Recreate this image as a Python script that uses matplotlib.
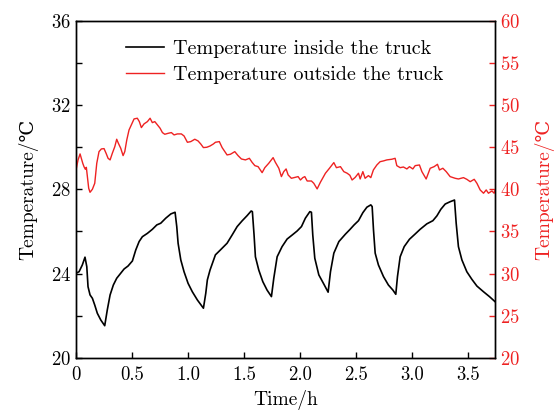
import matplotlib
matplotlib.use("Agg")
import matplotlib.pyplot as plt
from matplotlib.ticker import FixedLocator, FixedFormatter, MultipleLocator

# Temperature inside the truck (left axis, degC) against time (h)
t_in = [0.0, 0.027, 0.056, 0.080, 0.096, 0.107, 0.125, 0.146, 0.167, 0.190, 0.221,
        0.256, 0.279, 0.304, 0.333, 0.363, 0.399, 0.429, 0.464, 0.503, 0.533, 0.563,
        0.592, 0.637, 0.681, 0.721, 0.756, 0.801, 0.846, 0.884, 0.899, 0.911, 0.935,
        0.964, 1.0, 1.038, 1.083, 1.137, 1.158, 1.172, 1.196, 1.244, 1.288, 1.348,
        1.393, 1.438, 1.482, 1.527, 1.563, 1.574, 1.589, 1.601, 1.631, 1.667, 1.705,
        1.744, 1.765, 1.795, 1.839, 1.884, 1.929, 1.973, 2.012, 2.047, 2.087, 2.101,
        2.113, 2.131, 2.167, 2.212, 2.25, 2.271, 2.301, 2.346, 2.404, 2.446, 2.482,
        2.521, 2.56, 2.596, 2.631, 2.643, 2.655, 2.67, 2.699, 2.744, 2.788, 2.828,
        2.854, 2.869, 2.893, 2.929, 2.976, 3.027, 3.071, 3.131, 3.185, 3.221, 3.256,
        3.295, 3.339, 3.378, 3.393, 3.413, 3.444, 3.488, 3.533, 3.578, 3.637, 3.69,
        3.74]
temp_in = [24.02, 24.09, 24.41, 24.78, 24.33, 23.38, 22.99, 22.83, 22.51, 22.12, 21.8,
           21.53, 22.28, 22.99, 23.46, 23.78, 24.02, 24.22, 24.36, 24.6, 25.12, 25.52,
           25.75, 25.91, 26.1, 26.31, 26.39, 26.63, 26.83, 26.91, 26.23, 25.44, 24.65,
           24.09, 23.54, 23.14, 22.75, 22.36, 23.07, 23.7, 24.17, 24.89, 25.12, 25.44,
           25.83, 26.23, 26.5, 26.75, 26.97, 26.94, 25.83, 24.8, 24.17, 23.62, 23.22,
           22.91, 23.78, 24.8, 25.28, 25.64, 25.83, 26.02, 26.23, 26.63, 26.94, 26.91,
           25.83, 24.73, 23.94, 23.5, 23.12, 24.09, 24.97, 25.52, 25.87, 26.1, 26.31,
           26.51, 26.89, 27.15, 27.26, 27.18, 26.07, 24.97, 24.41, 23.86, 23.46, 23.22,
           23.02, 23.86, 24.8, 25.28, 25.63, 25.88, 26.1, 26.36, 26.51, 26.74, 27.05,
           27.3, 27.41, 27.49, 26.39, 25.28, 24.65, 24.09, 23.73, 23.41, 23.14, 22.91,
           22.67]

# Temperature outside the truck (right axis, degC) against time (h)
t_out = [0.0, 0.018, 0.036, 0.047, 0.06, 0.071, 0.083, 0.092, 0.101, 0.113, 0.125,
         0.146, 0.167, 0.185, 0.205, 0.226, 0.25, 0.268, 0.286, 0.304, 0.324, 0.346,
         0.363, 0.378, 0.399, 0.42, 0.435, 0.453, 0.473, 0.494, 0.518, 0.547, 0.565,
         0.583, 0.607, 0.637, 0.661, 0.681, 0.703, 0.726, 0.75, 0.771, 0.792, 0.824,
         0.851, 0.875, 0.904, 0.94, 0.964, 0.994, 1.024, 1.06, 1.089, 1.113, 1.137,
         1.167, 1.196, 1.226, 1.244, 1.279, 1.304, 1.328, 1.348, 1.378, 1.417, 1.446,
         1.476, 1.512, 1.547, 1.571, 1.596, 1.625, 1.661, 1.685, 1.72, 1.759, 1.779,
         1.81, 1.833, 1.854, 1.875, 1.893, 1.922, 1.958, 1.982, 2.003, 2.024, 2.042,
         2.063, 2.101, 2.122, 2.152, 2.181, 2.226, 2.262, 2.301, 2.324, 2.36, 2.39,
         2.42, 2.444, 2.464, 2.491, 2.521, 2.536, 2.56, 2.58, 2.61, 2.631, 2.654,
         2.685, 2.714, 2.744, 2.774, 2.819, 2.848, 2.863, 2.893, 2.922, 2.953, 2.976,
         3.006, 3.027, 3.065, 3.087, 3.125, 3.161, 3.196, 3.226, 3.244, 3.274, 3.304,
         3.339, 3.384, 3.413, 3.458, 3.488, 3.518, 3.554, 3.578, 3.607, 3.637, 3.661,
         3.681, 3.712, 3.732, 3.74]
temp_out = [42.29, 43.48, 44.19, 43.67, 43.08, 42.68, 42.37, 42.6, 41.5, 40.12, 39.64,
            40.0, 40.71, 43.08, 44.46, 44.78, 44.82, 44.27, 43.67, 43.48, 44.27, 45.05,
            45.93, 45.45, 44.86, 43.99, 44.46, 45.85, 47.03, 47.63, 48.34, 48.42, 48.02,
            47.31, 47.75, 48.02, 48.42, 47.9, 48.02, 47.63, 47.24, 46.72, 46.52, 46.64,
            46.72, 46.44, 46.56, 46.56, 46.32, 45.57, 45.65, 45.93, 45.73, 45.37, 44.94,
            44.98, 45.13, 45.37, 45.57, 45.65, 44.94, 44.46, 44.07, 44.15, 44.46, 43.99,
            43.59, 43.48, 43.67, 43.2, 42.8, 42.68, 41.97, 42.56, 43.08, 43.75, 43.2,
            42.49, 41.5, 42.09, 42.41, 41.7, 41.3, 41.42, 41.5, 41.1, 41.38, 41.5,
            40.98, 40.98, 40.71, 40.04, 40.83, 41.9, 42.49, 43.16, 42.56, 42.68, 42.09,
            41.9, 41.66, 41.1, 41.4, 41.9, 41.22, 42.09, 41.3, 41.62, 41.38, 42.29,
            42.88, 43.27, 43.36, 43.48, 43.56, 43.67, 42.8, 42.56, 42.64, 42.41, 42.68,
            42.41, 42.8, 42.88, 42.09, 41.22, 42.49, 42.68, 42.96, 42.29, 42.49, 42.09,
            41.5, 41.3, 41.22, 41.38, 41.18, 40.9, 41.18, 40.71, 39.92, 39.53, 39.92,
            39.53, 39.8, 39.53, 39.92]

x_ticks = [0, 0.5, 1.0, 1.5, 2.0, 2.5, 3.0, 3.5]
x_labels = ["0", "0.5", "1.0", "1.5", "2.0", "2.5", "3.0", "3.5"]
left_ticks = [20, 24, 28, 32, 36]
right_ticks = [20, 25, 30, 35, 40, 45, 50, 55, 60]

RED = "#ee2222"
FONT = ["cmr10", "DejaVu Serif"]
plt.rcParams["font.family"] = FONT
plt.rcParams["axes.formatter.use_mathtext"] = True

fig = plt.figure(figsize=(5.55, 4.11), dpi=100)
ax = fig.add_axes([0.137, 0.129, 0.755, 0.821])
ax2 = ax.twinx()

l1, = ax.plot(t_in, temp_in, color="black", lw=1.2, label="Temperature inside the truck")
l2, = ax2.plot(t_out, temp_out, color=RED, lw=1.0, label="Temperature outside the truck")

ax.set_xlim(0, 3.74)
ax.set_ylim(20, 36)
ax2.set_ylim(20, 60)

ax.xaxis.set_major_locator(FixedLocator(x_ticks))
ax.xaxis.set_major_formatter(FixedFormatter(x_labels))
ax.yaxis.set_major_locator(FixedLocator(left_ticks))
ax.yaxis.set_minor_locator(MultipleLocator(2))
ax2.yaxis.set_major_locator(FixedLocator(right_ticks))

ax.tick_params(axis="both", which="both", direction="in", top=False, right=False,
               labelsize=13.5, width=1.0)
ax.tick_params(axis="both", which="major", length=4.5)
ax.tick_params(axis="y", which="minor", length=4.5)
ax.tick_params(axis="x", pad=6)
ax2.tick_params(axis="y", direction="in", length=4.5, width=1.0, colors=RED, labelsize=13.5)

for a in (ax, ax2):
    for s in a.spines.values():
        s.set_linewidth(1.0)
        s.set_color("black")

ax.set_xlabel("Time/h", fontsize=14, labelpad=4)
ax.set_ylabel("Temperature/\u2103", fontsize=14, labelpad=9)
ax2.set_ylabel("Temperature/\u2103", fontsize=14, color=RED, labelpad=10)

ax2.legend(handles=[l1, l2], loc="upper left", bbox_to_anchor=(0.075, 0.995),
           frameon=False, fontsize=14.5, handlelength=1.9, handletextpad=0.45,
           labelspacing=0.38)

fig.savefig("out.png", dpi=100)
